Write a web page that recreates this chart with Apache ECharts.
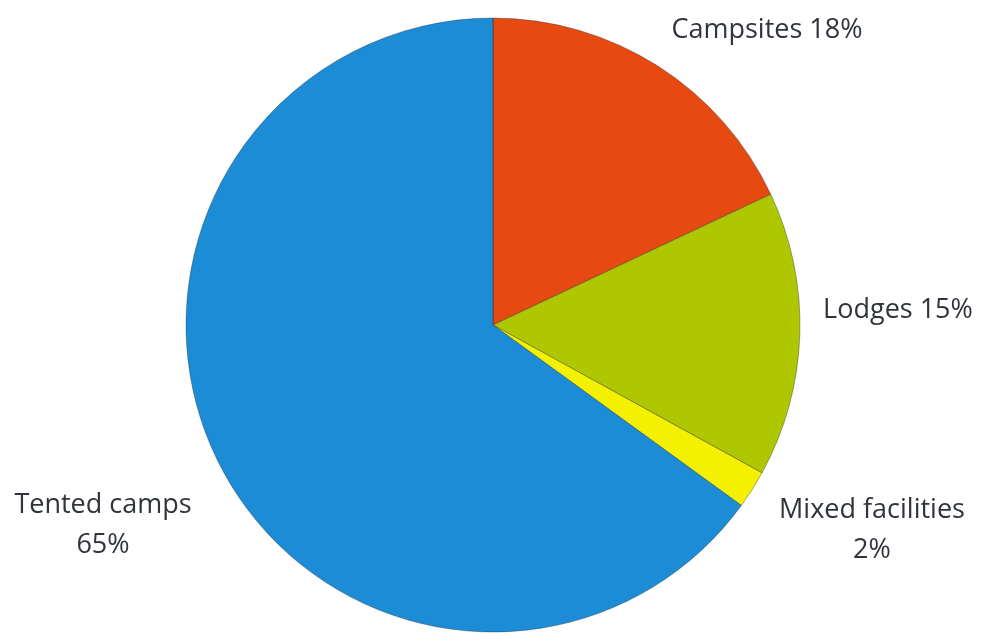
<!DOCTYPE html>
<html>
<head>
<meta charset="utf-8">
<script src="https://cdn.jsdelivr.net/npm/echarts@6/dist/echarts.min.js"></script>
<style>
  html, body { margin: 0; padding: 0; background: #ffffff; }
  #chart { width: 999px; height: 641px; }
</style>
</head>
<body>
<div id="chart"></div>
<script>
// Accommodation types, share in percent
const categories = ['Campsites', 'Lodges', 'Mixed facilities', 'Tented camps'];
const shares = [18, 15, 2, 65];
const labelTexts = ['Campsites 18%', 'Lodges 15%', 'Mixed facilities\n2%', 'Tented camps\n65%'];

// Slice fill colours
const sliceColors = ['#E64A10', '#AFC700', '#F4F100', '#1C8CD6'];

// Label anchor points (page pixels)
const labelAnchors = [
  { x: 767, y: 30 },
  { x: 898, y: 310 },
  { x: 872, y: 530 },
  { x: 103, y: 525 }
];

const chart = echarts.init(document.getElementById('chart'), null, { renderer: 'canvas' });

const data = categories.map((name, i) => ({
  name: name,
  value: shares[i],
  itemStyle: { color: sliceColors[i] },
  label: { formatter: labelTexts[i] }
}));

chart.setOption({
  animation: false,
  backgroundColor: '#ffffff',
  series: [{
    type: 'pie',
    center: [493, 325],
    radius: 307,
    startAngle: 90,
    clockwise: true,
    data: data,
    itemStyle: { borderColor: 'rgba(20,30,50,0.35)', borderWidth: 1 },
    label: {
      show: true,
      position: 'outside',
      overflow: 'none',
      color: '#30343c',
      fontFamily: '"Open Sans", sans-serif',
      fontSize: 27,
      lineHeight: 40,
      align: 'center'
    },
    labelLine: { show: false },
    labelLayout: function (params) {
      const a = labelAnchors[params.dataIndex];
      return { x: a.x, y: a.y, align: 'center', verticalAlign: 'middle', hideOverlap: false };
    },
    emphasis: { disabled: true }
  }]
});
</script>
</body>
</html>
